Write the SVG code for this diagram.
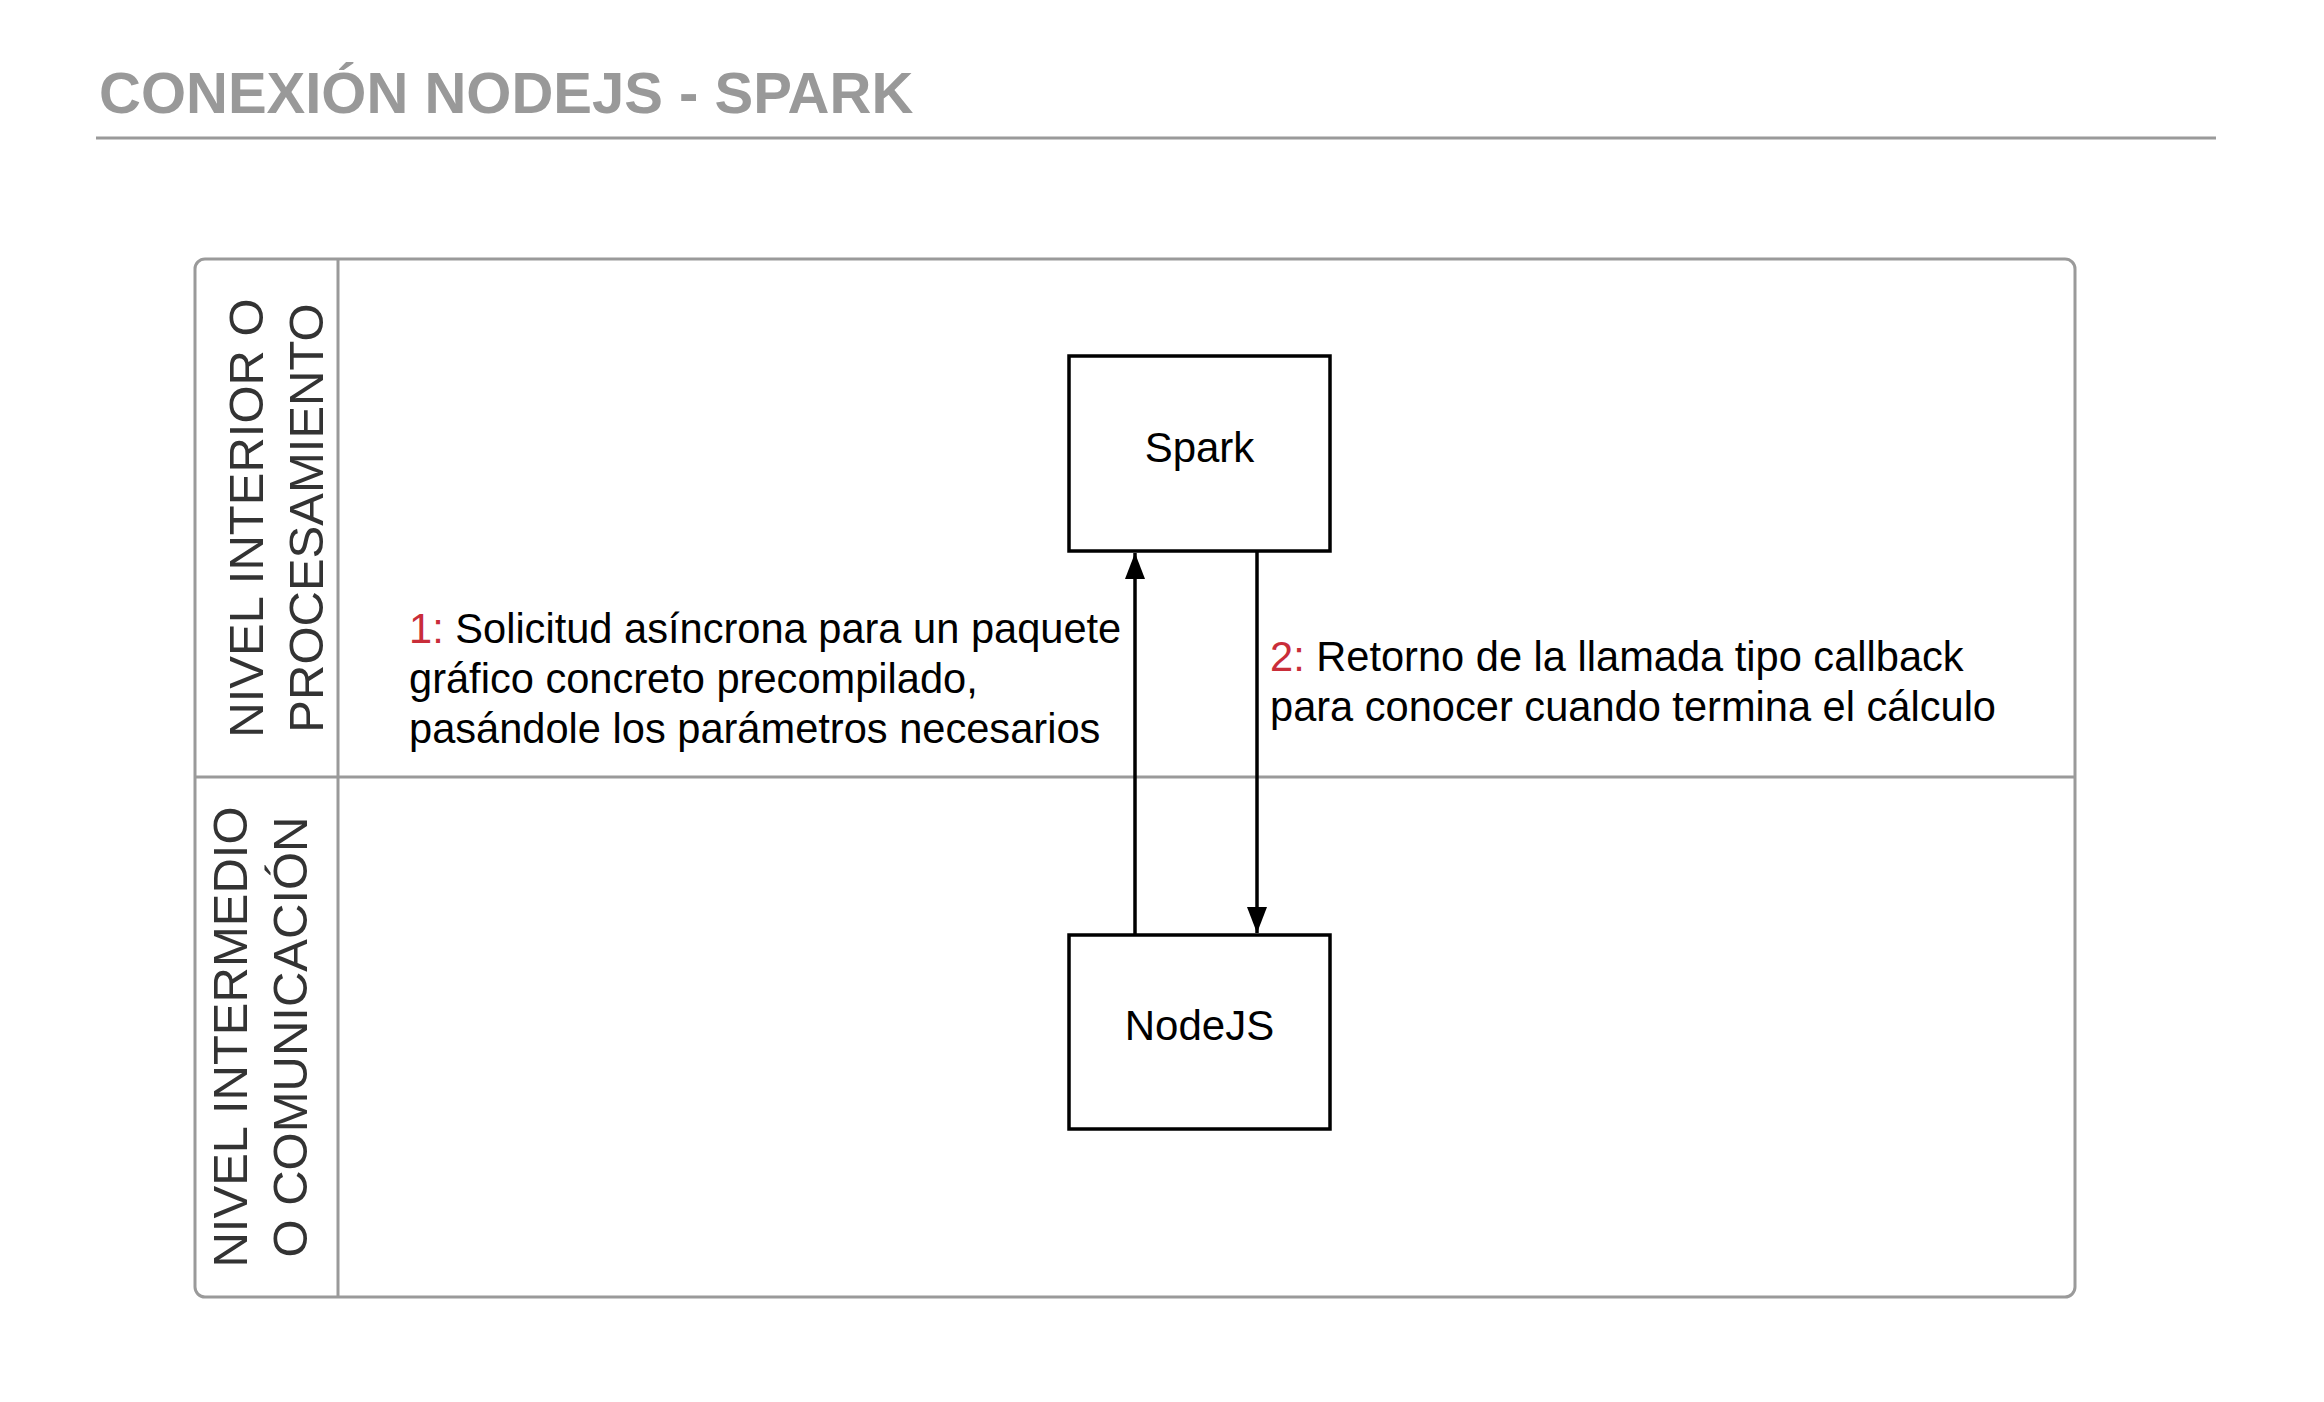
<svg xmlns="http://www.w3.org/2000/svg" width="2324" height="1402" viewBox="0 0 2324 1402">
<style>
.title{font-family:"Liberation Sans",Arial,sans-serif;font-weight:bold;font-size:58px;fill:#999999}
.lane{font-family:"Liberation Sans",Arial,sans-serif;font-size:49px;fill:#333333;text-anchor:middle}
.node rect{fill:#ffffff;stroke:#000000;stroke-width:3.5}
.node text{font-family:"Liberation Sans",Arial,sans-serif;font-size:42px;fill:#000000;text-anchor:middle}
.lbl{font-family:"Liberation Sans",Arial,sans-serif;font-size:41.6px;fill:#000000}
.num{fill:#c92d39}
.frame{fill:none;stroke:#9a9a9a;stroke-width:3}
.conn{fill:none;stroke:#000000;stroke-width:3.5}
</style>
<defs>
<marker id="arr" markerUnits="userSpaceOnUse" markerWidth="26" markerHeight="20" viewBox="0 0 26 20" refX="26" refY="10" orient="auto">
<path d="M0,0 L26,10 L0,20 Z" fill="#000000"/>
</marker>
</defs>
<rect width="2324" height="1402" fill="#ffffff"/>
<g id="title">
<text class="title" x="99" y="113">CONEXIÓN NODEJS - SPARK</text>
<line x1="96" y1="138" x2="2216" y2="138" stroke="#9a9a9a" stroke-width="3"/>
</g>
<g id="swimlanes">
<rect class="frame" x="195" y="259" width="1880" height="1038" rx="10" ry="10"/>
<line class="frame" x1="338" y1="259" x2="338" y2="1297"/>
<line class="frame" x1="195" y1="777" x2="2075" y2="777"/>
<g id="lane1">
<text class="lane" transform="translate(263,518) rotate(-90)">NIVEL INTERIOR O</text>
<text class="lane" transform="translate(323,518) rotate(-90)">PROCESAMIENTO</text>
</g>
<g id="lane2">
<text class="lane" transform="translate(247,1037) rotate(-90)">NIVEL INTERMEDIO</text>
<text class="lane" transform="translate(307,1037) rotate(-90)">O COMUNICACIÓN</text>
</g>
</g>
<g id="connectors">
<line class="conn" x1="1135" y1="935" x2="1135" y2="553" marker-end="url(#arr)"/>
<line class="conn" x1="1257" y1="551" x2="1257" y2="933" marker-end="url(#arr)"/>
</g>
<g id="node-spark" class="node">
<rect x="1069" y="356" width="261" height="195"/>
<text x="1199.5" y="462">Spark</text>
</g>
<g id="node-nodejs" class="node">
<rect x="1069" y="935" width="261" height="194"/>
<text x="1199.5" y="1040">NodeJS</text>
</g>
<g id="label1">
<text class="lbl" x="409" y="643"><tspan class="num">1:</tspan> Solicitud asíncrona para un paquete</text>
<text class="lbl" x="409" y="693">gráfico concreto precompilado,</text>
<text class="lbl" x="409" y="743">pasándole los parámetros necesarios</text>
</g>
<g id="label2">
<text class="lbl" x="1270" y="671"><tspan class="num">2:</tspan> Retorno de la llamada tipo callback</text>
<text class="lbl" x="1270" y="721">para conocer cuando termina el cálculo</text>
</g>
</svg>
